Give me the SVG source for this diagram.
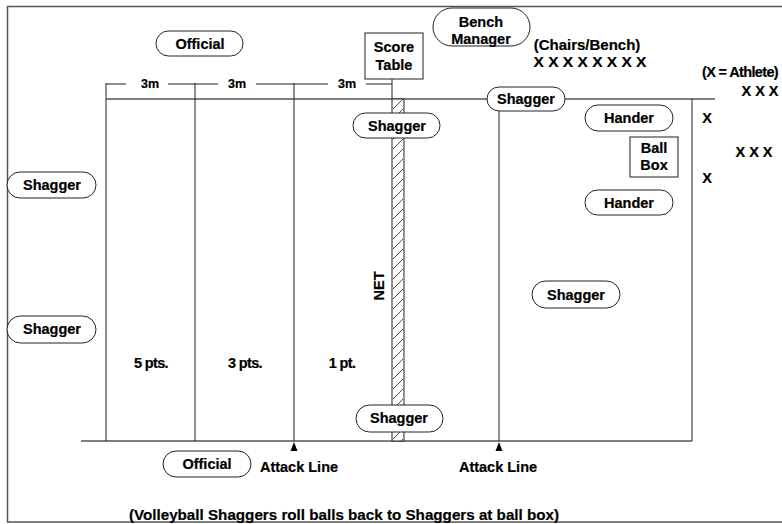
<svg xmlns="http://www.w3.org/2000/svg" width="782" height="524" viewBox="0 0 782 524">
<style>
.t{font-family:"Liberation Sans",Arial,sans-serif;font-weight:bold;font-size:14.5px;fill:#000;text-anchor:middle;dominant-baseline:central;stroke:#000;stroke-width:0.2}
.s{font-size:12.5px}
.p{letter-spacing:-0.65px}
.pill{fill:#fff;stroke:#222;stroke-width:1}
.box{fill:#fff;stroke:#444;stroke-width:1.2}
.ln{stroke:#222;stroke-width:1;fill:none}
.gl{stroke:#555;stroke-width:1.5;fill:none}
</style>
<defs>
<pattern id="hatch" patternUnits="userSpaceOnUse" x="392" y="99" width="12" height="10">
<rect width="12" height="10" fill="#fff"/>
<line x1="0" y1="11" x2="12" y2="-1" stroke="#333" stroke-width="0.9"/>
</pattern>
</defs>
<rect width="782" height="524" fill="#fff"/>
<g id="frame">
<path class="gl" d="M790 6.5 H7.5 V522 H790"/>
</g>
<g id="court">
<path class="gl" d="M106 99 H715"/>
<path class="gl" d="M81 441 H692"/>
<path class="ln" d="M106 83 V441 M195 83 V441 M294 83 V441 M499 99 V441 M692 99 V441"/>
<rect x="392" y="99" width="12" height="342" fill="url(#hatch)" stroke="#222" stroke-width="1"/>
<text class="t" x="379" y="286" transform="rotate(-90 379 286)">NET</text>
<text class="t p" x="151" y="363">5 pts.</text>
<text class="t p" x="245" y="363">3 pts.</text>
<text class="t p" x="342" y="363">1 pt.</text>
</g>
<g id="dimensions">
<path class="ln" d="M106 84 H126 M168 84 H218 M256 84 H328 M366 84 H392 M392 79 V99"/>
<text class="t s" x="150" y="84">3m</text>
<text class="t s" x="237" y="84">3m</text>
<text class="t s" x="347" y="84">3m</text>
</g>
<g id="connectors">
<polygon points="294,442 290.5,451 297.5,451" fill="#000"/>
<polygon points="499,442 495.5,451 502.5,451" fill="#000"/>
</g>
<g id="official-top"><rect class="pill" x="156" y="31" width="87" height="25" rx="12.5"/><text class="t" x="200" y="44">Official</text></g>
<g id="score-table"><rect class="box" x="365" y="33" width="58" height="46"/><text class="t" x="394" y="47">Score</text><text class="t" x="394" y="65">Table</text></g>
<g id="bench-manager"><rect class="pill" x="433" y="8" width="97" height="38" rx="19"/><text class="t" x="481" y="22">Bench</text><text class="t" x="481" y="39">Manager</text></g>
<g id="chairs"><text class="t" x="587" y="44" style="font-size:15px">(Chairs/Bench)</text><text class="t" x="590" y="61" style="font-size:15.5px">X X X X X X X X</text></g>
<g id="athletes"><text class="t p" x="740" y="72">(X = Athlete)</text><text class="t" x="760" y="91">X X X</text><text class="t" x="754" y="152">X X X</text><text class="t" x="707" y="118">X</text><text class="t" x="707" y="178">X</text></g>
<g id="shagger-tr"><rect class="pill" x="487" y="87" width="78" height="24" rx="12"/><text class="t" x="526" y="99">Shagger</text></g>
<g id="hander-1"><rect class="pill" x="585" y="105" width="88" height="26" rx="13"/><text class="t" x="629" y="118">Hander</text></g>
<g id="ball-box"><rect class="box" x="630" y="137" width="48" height="40"/><text class="t" x="654" y="148">Ball</text><text class="t" x="654" y="165">Box</text></g>
<g id="hander-2"><rect class="pill" x="585" y="190" width="88" height="25" rx="12.5"/><text class="t" x="629" y="203">Hander</text></g>
<g id="shagger-l1"><rect class="pill" x="7" y="172" width="89" height="26" rx="13"/><text class="t" x="52" y="185">Shagger</text></g>
<g id="shagger-l2"><rect class="pill" x="7" y="316" width="89" height="27" rx="13.5"/><text class="t" x="52" y="329">Shagger</text></g>
<g id="shagger-net-top"><rect class="pill" x="353" y="113" width="87" height="25" rx="12.5"/><text class="t" x="397" y="126">Shagger</text></g>
<g id="shagger-net-bottom"><rect class="pill" x="356" y="405" width="87" height="27" rx="13.5"/><text class="t" x="399" y="418">Shagger</text></g>
<g id="shagger-right"><rect class="pill" x="532" y="281" width="88" height="27" rx="13.5"/><text class="t" x="576" y="295">Shagger</text></g>
<g id="official-bottom"><rect class="pill" x="163" y="451" width="88" height="26" rx="13"/><text class="t" x="207" y="464">Official</text></g>
<g id="labels">
<text class="t" x="299" y="467">Attack Line</text>
<text class="t" x="498" y="467">Attack Line</text>
<text class="t" x="344" y="514" style="font-size:15.2px">(Volleyball Shaggers roll balls back to Shaggers at ball box)</text>
</g>
</svg>
